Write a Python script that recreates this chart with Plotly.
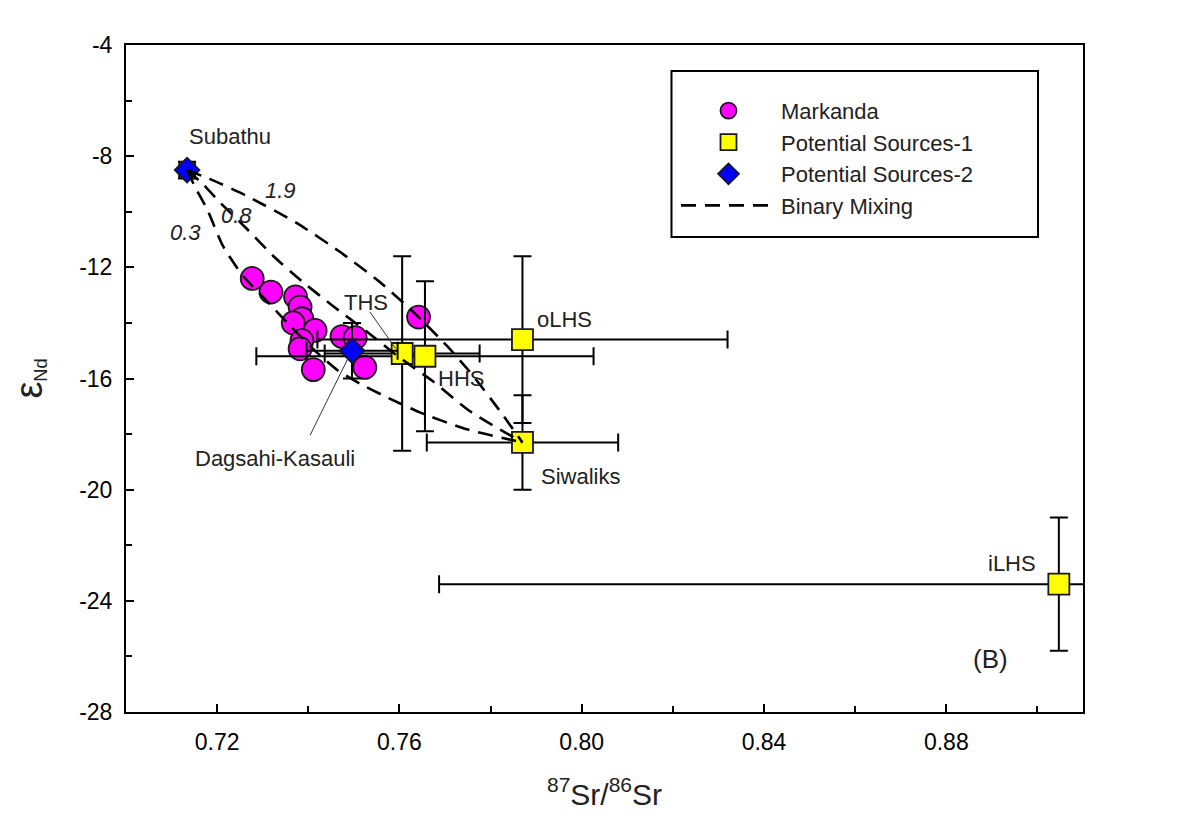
import plotly.graph_objects as go

# ---------------- data ----------------
# Markanda samples
mk_x = [0.7277, 0.7318, 0.7372, 0.7382, 0.7386, 0.7367, 0.7415, 0.7386, 0.7382,
        0.7411, 0.7474, 0.7503, 0.7524, 0.7642]
mk_y = [-12.40, -12.89, -13.06, -13.43, -13.85, -14.00, -14.27, -14.64, -14.93,
        -15.68, -14.49, -14.53, -15.60, -13.79]

# Potential Sources-1
s1_names = ["THS", "HHS", "oLHS", "Siwaliks", "iLHS"]
s1_x = [0.7606, 0.7656, 0.787, 0.787, 0.9047]
s1_y = [-15.1, -15.2, -14.6, -18.3, -23.4]
s1_xerr = [0.017, 0.037, 0.045, 0.021, 0.136]
s1_yerr = [3.5, 2.7, 3.0, 1.7, 2.4]

# Potential Sources-2
s2_names = ["Subathu", "Dagsahi-Kasauli"]
s2_x = [0.7134, 0.7496]
s2_y = [-8.5, -15.0]
s2_xerr = [0.0017, 0.010]
s2_yerr = [0.3, 1.0]

# Binary mixing curves (Subathu -> Siwaliks)
mix_labels = ["0.3", "0.8", "1.9"]
mix03_x = [0.7134, 0.7151, 0.7178, 0.7213, 0.7257, 0.7309, 0.7360, 0.7410, 0.7465,
           0.7513, 0.7568, 0.7645, 0.7748, 0.787]
mix03_y = [-8.5, -9.09, -9.91, -11.24, -12.31, -13.21, -14.10, -14.93, -15.71,
           -16.18, -16.64, -17.22, -17.83, -18.3]
mix08_x = [0.7134, 0.7169, 0.7206, 0.7266, 0.7323, 0.7388, 0.7454, 0.7529, 0.7595,
           0.7674, 0.7755, 0.787]
mix08_y = [-8.5, -9.01, -9.66, -10.63, -11.59, -12.53, -13.39, -14.32, -15.18,
           -16.11, -17.18, -18.3]
mix19_x = [0.7134, 0.7191, 0.7266, 0.7375, 0.7470, 0.7557, 0.7630, 0.7704, 0.7761,
           0.7821, 0.787]
mix19_y = [-8.5, -8.87, -9.44, -10.41, -11.45, -12.53, -13.60, -14.82, -15.89,
           -17.18, -18.3]

x_ticks = [0.72, 0.76, 0.80, 0.84, 0.88]
y_ticks = [-28, -24, -20, -16, -12, -8, -4]

FONT = "Liberation Sans, Arial, sans-serif"
TXT = "#222222"

fig = go.Figure()

fig.add_trace(go.Scatter(
    x=mk_x, y=mk_y, mode="markers", name="Markanda",
    marker=dict(symbol="circle", size=23, color="#ff00ff",
                line=dict(color="#1a1a1a", width=1.8)),
))

fig.add_trace(go.Scatter(
    x=s1_x, y=s1_y, mode="markers", name="Potential Sources-1",
    marker=dict(symbol="square", size=21, color="#ffff00",
                line=dict(color="#1a1a1a", width=1.8)),
    error_x=dict(type="data", array=s1_xerr, visible=True, color="black",
                 thickness=2, width=9),
    error_y=dict(type="data", array=s1_yerr, visible=True, color="black",
                 thickness=2, width=9),
))

fig.add_trace(go.Scatter(
    x=s2_x, y=s2_y, mode="markers", name="Potential Sources-2",
    marker=dict(symbol="diamond", size=19, color="#0000ff",
                line=dict(color="#1a1a1a", width=1.8)),
    error_x=dict(type="data", array=s2_xerr, visible=True, color="black",
                 thickness=2, width=9),
    error_y=dict(type="data", array=s2_yerr, visible=True, color="black",
                 thickness=2, width=9),
))

dash = "15px,9px"
for i, (cx, cy) in enumerate([(mix03_x, mix03_y), (mix08_x, mix08_y), (mix19_x, mix19_y)]):
    fig.add_trace(go.Scatter(
        x=cx, y=cy, mode="lines", name="Binary Mixing",
        line=dict(color="black", width=2.6, dash=dash, shape="spline", smoothing=0.6),
        showlegend=(i == 0), legendgroup="mix",
    ))

# leader lines
fig.add_shape(type="line", x0=0.7535, y0=-13.60, x1=0.7592, y1=-14.93,
              line=dict(color="#333333", width=1))
fig.add_shape(type="line", x0=0.7404, y0=-18.04, x1=0.7487, y1=-15.28,
              line=dict(color="#333333", width=1))

# legend box
fig.add_shape(type="rect", xref="paper", yref="paper",
              x0=0.570, x1=0.953, y0=0.712, y1=0.961,
              line=dict(color="black", width=2), fillcolor="rgba(0,0,0,0)")

def lab(text, x, y, size=22, italic=False):
    t = f"<i>{text}</i>" if italic else text
    fig.add_annotation(x=x, y=y, text=t, showarrow=False,
                       font=dict(family=FONT, size=size, color=TXT))

lab("Subathu", 0.7229, -7.30)
lab(mix_labels[0], 0.7131, -10.73, italic=True)
lab(mix_labels[1], 0.7243, -10.15, italic=True)
lab(mix_labels[2], 0.7340, -9.25, italic=True)
lab("THS", 0.7527, -13.25)
lab("HHS", 0.7735, -16.0)
lab("oLHS", 0.7962, -13.87)
lab("Siwaliks", 0.7997, -19.52)
lab("iLHS", 0.8944, -22.65)
lab("Dagsahi-Kasauli", 0.7327, -18.87)
lab("(B)", 0.8896, -26.10, size=26)

axis_common = dict(
    showline=True, linecolor="black", linewidth=2, mirror=True,
    ticks="inside", tickcolor="black", tickwidth=1.5, ticklen=8,
    showgrid=False, zeroline=False,
    tickfont=dict(family=FONT, size=23, color="black"),
)

fig.update_xaxes(
    range=[0.70, 0.91], tickvals=x_ticks, ticktext=[f"{v:.2f}" for v in x_ticks],
    minor=dict(ticks="inside", dtick=0.02, tick0=0.70, ticklen=6,
               tickcolor="black", tickwidth=1.5),
    ticklabelstandoff=8,
    title=dict(text="<sup>87</sup>Sr/<sup>86</sup>Sr",
               font=dict(family=FONT, size=30, color=TXT), standoff=30),
    **axis_common,
)
fig.update_yaxes(
    range=[-28, -4], tickvals=y_ticks, ticktext=[str(v) for v in y_ticks],
    minor=dict(ticks="inside", dtick=2, tick0=-28, ticklen=6,
               tickcolor="black", tickwidth=1.5),
    ticklabelstandoff=7,
    title=dict(text="<span style='font-size:38px'>ε</span><sub>Nd</sub>",
               font=dict(family=FONT, size=26, color=TXT), standoff=34),
    **axis_common,
)

fig.update_layout(
    width=1192, height=810,
    margin=dict(l=118, r=117, t=37, b=103),
    paper_bgcolor="white", plot_bgcolor="white",
    font=dict(family=FONT, color=TXT),
    legend=dict(
        x=0.5747, y=0.9328, xanchor="left", yanchor="top",
        bgcolor="rgba(0,0,0,0)", borderwidth=0,
        font=dict(family=FONT, size=22, color=TXT),
        itemwidth=95, tracegroupgap=0,
    ),
)

fig.write_html("out.html")
